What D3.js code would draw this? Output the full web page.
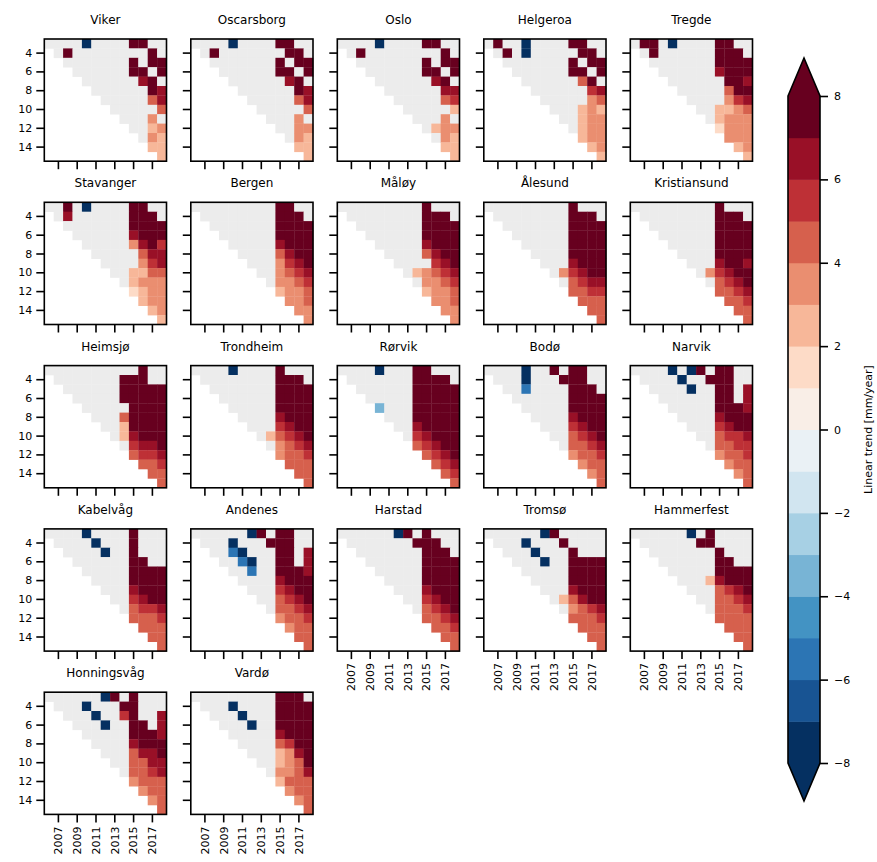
<!DOCTYPE html>
<html><head><meta charset="utf-8">
<script src="https://cdn.jsdelivr.net/npm/d3@7"></script>
<style>body{margin:0;background:#fff}svg text{font-family:"DejaVu Sans",sans-serif}</style>
</head><body>
<svg id="chart" width="877" height="862"></svg>
<script>
const G = null; // not significant (grey)
const stationNames = ["Viker","Oscarsborg","Oslo","Helgeroa","Tregde","Stavanger","Bergen","Måløy","Ålesund","Kristiansund","Heimsjø","Trondheim","Rørvik","Bodø","Narvik","Kabelvåg","Andenes","Harstad","Tromsø","Hammerfest","Honningsvåg","Vardø"];
const endYears = [2006,2007,2008,2009,2010,2011,2012,2013,2014,2015,2016,2017,2018];
const windowLengths = [3,4,5,6,7,8,9,10,11,12,13,14,15];
const xTickLabels = [2007,2009,2011,2013,2015,2017];
const yTickLabels = [4,6,8,10,12,14];
const levels = [-8,-7,-6,-5,-4,-3,-2,-1,0,1,2,3,4,5,6,7,8];
const colorbarTicks = [-8,-6,-4,-2,0,2,4,6,8];

// row r = window length windowLengths[r]; values start at endYears[r]
const viker = [
 [G,G,G,G,-9,G,G,G,G,9,9,G,G],
 [G,9,G,G,G,G,G,G,G,G,9,G],
 [G,G,G,G,G,G,G,9,G,9,9],
 [G,G,G,G,G,G,9,9,G,9],
 [G,G,G,G,G,G,6.5,9,G],
 [G,G,G,G,G,G,9,6.5],
 [G,G,G,G,G,4.5,6.5],
 [G,G,G,G,G,4.5],
 [G,G,G,3.5,G],
 [G,G,2.5,3.5],
 [G,3.5,2.5],
 [2.5,2.5],
 [2.5]];
const oscarsborg = [
 [G,G,G,G,-9,G,G,G,G,9,9,G,G],
 [G,9,G,G,G,G,G,G,G,9,9,G],
 [G,G,G,G,G,G,G,9,G,9,9],
 [G,G,G,G,G,G,9,9,G,9],
 [G,G,G,G,G,G,6.5,9,G],
 [G,G,G,G,G,G,9,6.5],
 [G,G,G,G,G,4.5,6.5],
 [G,G,G,G,G,4.5],
 [G,G,G,3.5,G],
 [G,G,3.5,3.5],
 [G,3.5,2.5],
 [2.5,2.5],
 [2.5]];
const oslo = [
 [G,G,G,G,-9,G,G,G,G,9,9,G,G],
 [G,9,G,G,G,G,G,G,G,G,9,G],
 [G,G,G,G,G,G,G,9,G,9,9],
 [G,G,G,G,G,G,9,9,G,9],
 [G,G,G,G,G,G,6.5,9,G],
 [G,G,G,G,G,G,6.5,6.5],
 [G,G,G,G,G,4.5,5.5],
 [G,G,G,G,G,2.5],
 [G,G,G,3.5,G],
 [G,2.5,3.5,3.5],
 [G,3.5,2.5],
 [2.5,2.5],
 [2.5]];
const helgeroa = [
 [G,9,G,G,-9,G,G,G,G,9,9,G,G],
 [G,9,G,-9,G,G,G,G,G,9,9,G],
 [G,G,G,G,G,G,G,9,G,9,9],
 [G,G,G,G,G,G,9,9,G,9],
 [G,G,G,G,G,G,4.5,9,G],
 [G,G,G,G,G,G,5.5,6.5],
 [G,G,G,G,G,3.5,4.5],
 [G,G,G,2.5,3.5,2.5],
 [G,G,2.5,3.5,3.5],
 [G,2.5,3.5,3.5],
 [2.5,3.5,3.5],
 [2.5,3.5],
 [2.5]];
const tregde = [
 [G,9,9,G,-9,G,G,G,G,9,9,G,G],
 [G,9,G,G,G,G,G,G,9,9,9,G],
 [G,G,G,G,G,G,G,9,9,9,9],
 [G,G,G,G,G,G,6.5,9,9,9],
 [G,G,G,G,G,G,9,9,6.5],
 [G,G,G,G,G,4.5,9,9],
 [G,G,G,G,3.5,5.5,6.5],
 [G,G,2.5,2.5,3.5,4.5],
 [G,2.5,3.5,3.5,3.5],
 [1.5,3.5,3.5,3.5],
 [3.5,3.5,3.5],
 [2.5,3.5],
 [2.5]];
const stavanger = [
 [G,G,9,G,-9,G,G,G,G,9,9,G,G],
 [G,6.5,G,G,G,G,G,G,9,9,9,G],
 [G,G,G,G,G,G,G,9,9,9,9],
 [G,G,G,G,G,G,6.5,9,9,9],
 [G,G,G,G,G,3.5,6.5,9,5.5],
 [G,G,G,G,G,4.5,6.5,6.5],
 [G,G,G,G,3.5,5.5,6.5],
 [G,G,2.5,2.5,4.5,4.5],
 [G,2.5,3.5,3.5,3.5],
 [1.5,2.5,3.5,3.5],
 [2.5,3.5,3.5],
 [2.5,3.5],
 [2.5]];
const bergen = [
 [G,G,G,G,G,G,G,G,G,9,9,G,G],
 [G,G,G,G,G,G,G,G,9,9,9,G],
 [G,G,G,G,G,G,G,9,9,9,9],
 [G,G,G,G,G,G,9,9,9,9],
 [G,G,G,G,G,6.5,9,9,9],
 [G,G,G,G,4.5,6.5,9,9],
 [G,G,G,3.5,5.5,6.5,9],
 [G,G,3.5,4.5,5.5,6.5],
 [G,3.5,3.5,4.5,5.5],
 [2.5,3.5,3.5,4.5],
 [3.5,3.5,4.5],
 [3.5,3.5],
 [3.5]];
const maloy = [
 [G,G,G,G,G,G,G,G,G,9,G,G,G],
 [G,G,G,G,G,G,G,G,9,9,9,G],
 [G,G,G,G,G,G,G,9,9,9,9],
 [G,G,G,G,G,G,9,9,9,9],
 [G,G,G,G,G,6.5,9,9,9],
 [G,G,G,G,4.5,6.5,9,9],
 [G,G,G,G,5.5,6.5,9],
 [G,2.5,3.5,4.5,5.5,6.5],
 [G,3.5,3.5,4.5,5.5],
 [2.5,3.5,3.5,4.5],
 [3.5,3.5,4.5],
 [3.5,3.5],
 [3.5]];
const alesund = [
 [G,G,G,G,G,G,G,G,G,9,G,G,G],
 [G,G,G,G,G,G,G,G,9,9,9,G],
 [G,G,G,G,G,G,G,9,9,9,9],
 [G,G,G,G,G,G,9,9,9,9],
 [G,G,G,G,G,9,9,9,9],
 [G,G,G,G,9,9,9,9],
 [G,G,G,6.5,9,9,9],
 [G,3.5,5.5,6.5,9,9],
 [G,4.5,5.5,6.5,6.5],
 [4.5,4.5,5.5,5.5],
 [4.5,4.5,4.5],
 [4.5,4.5],
 [4.5]];
const kristiansund = [
 [G,G,G,G,G,G,G,G,G,9,G,G,G],
 [G,G,G,G,G,G,G,G,9,9,9,G],
 [G,G,G,G,G,G,G,9,9,9,9],
 [G,G,G,G,G,G,9,9,9,9],
 [G,G,G,G,G,9,9,9,9],
 [G,G,G,G,9,9,9,9],
 [G,G,G,6.5,9,9,6.5],
 [G,3.5,5.5,6.5,9,9],
 [G,4.5,5.5,6.5,9],
 [4.5,4.5,5.5,6.5],
 [4.5,4.5,5.5],
 [4.5,4.5],
 [4.5]];
const heimsjo = [
 [G,G,G,G,G,G,G,G,G,G,9,G,G],
 [G,G,G,G,G,G,G,9,9,9,G,G],
 [G,G,G,G,G,G,9,9,9,9,9],
 [G,G,G,G,G,9,9,9,9,9],
 [G,G,G,G,G,9,9,9,9],
 [G,G,G,4.5,9,9,9,9],
 [G,G,2.5,9,9,9,9],
 [G,2.5,6.5,9,9,9],
 [G,5.5,6.5,6.5,9],
 [4.5,5.5,5.5,6.5],
 [4.5,4.5,5.5],
 [4.5,4.5],
 [4.5]];
const trondheim = [
 [G,G,G,G,-9,G,G,G,G,9,G,G,G],
 [G,G,G,G,G,G,G,G,9,9,9,G],
 [G,G,G,G,G,G,G,9,9,9,9],
 [G,G,G,G,G,G,9,9,9,9],
 [G,G,G,G,G,9,9,9,9],
 [G,G,G,G,6.5,9,9,9],
 [G,G,G,5.5,6.5,9,9],
 [G,2.5,4.5,5.5,6.5,9],
 [G,3.5,4.5,5.5,6.5],
 [3.5,4.5,4.5,5.5],
 [4.5,4.5,4.5],
 [4.5,4.5],
 [4.5]];
const rorvik = [
 [G,G,G,G,-9,G,G,G,9,9,G,G,G],
 [G,G,G,G,G,G,G,9,9,9,9,G],
 [G,G,G,G,G,G,9,9,9,9,9],
 [G,G,G,G,G,9,9,9,9,9],
 [-3.5,G,G,G,9,9,9,9,9],
 [G,G,G,9,9,9,9,9],
 [G,G,6.5,9,9,9,9],
 [G,5.5,6.5,9,9,9],
 [4.5,5.5,6.5,9,9],
 [4.5,5.5,6.5,9],
 [4.5,5.5,6.5],
 [4.5,5.5],
 [4.5]];
const bodo = [
 [G,G,G,G,-9,G,G,9,G,9,9,G,G],
 [G,G,G,-9,G,G,G,9,9,9,G,G],
 [G,G,-5.5,G,G,G,G,9,9,9,G],
 [G,G,G,G,G,G,9,9,9,9],
 [G,G,G,G,G,9,9,9,9],
 [G,G,G,G,6.5,9,9,9],
 [G,G,G,5.5,6.5,9,9],
 [G,G,4.5,5.5,6.5,9],
 [G,4.5,4.5,5.5,6.5],
 [3.5,4.5,4.5,5.5],
 [3.5,4.5,4.5],
 [3.5,4.5],
 [4.5]];
const narvik = [
 [G,G,G,G,-9,G,-9,9,G,9,9,G,G],
 [G,G,G,G,-9,G,G,9,9,9,G,G],
 [G,G,G,G,-9,G,G,9,9,G,6.5],
 [G,G,G,G,G,G,9,9,G,6.5],
 [G,G,G,G,G,9,9,9,6.5],
 [G,G,G,G,6.5,9,9,9],
 [G,G,G,5.5,6.5,9,9],
 [G,G,4.5,5.5,5.5,6.5],
 [G,4.5,4.5,5.5,5.5],
 [3.5,4.5,4.5,5.5],
 [3.5,4.5,4.5],
 [3.5,4.5],
 [4.5]];
const kabelvag = [
 [G,G,G,G,-9,G,G,G,G,9,G,G,G],
 [G,G,G,G,-9,G,G,G,9,G,G,G],
 [G,G,G,G,-9,G,G,9,G,G,G],
 [G,G,G,G,G,G,9,9,G,G],
 [G,G,G,G,G,9,9,9,9],
 [G,G,G,G,9,9,9,9],
 [G,G,G,6.5,9,9,9],
 [G,G,5.5,6.5,9,9],
 [G,4.5,5.5,5.5,6.5],
 [4.5,4.5,4.5,5.5],
 [4.5,4.5,4.5],
 [4.5,4.5],
 [4.5]];
const andenes = [
 [G,G,G,G,G,G,-9,9,G,9,9,G,G],
 [G,G,G,-9,G,G,G,9,9,9,G,G],
 [G,G,-5.5,-9,G,G,G,9,9,G,6.5],
 [G,G,-5.5,-9,G,G,9,9,G,6.5],
 [G,G,-5.5,G,G,9,9,9,6.5],
 [G,G,G,G,6.5,9,9,9],
 [G,G,G,5.5,6.5,9,9],
 [G,G,4.5,5.5,6.5,9],
 [G,4.5,4.5,5.5,6.5],
 [3.5,4.5,4.5,5.5],
 [3.5,4.5,4.5],
 [4.5,4.5],
 [4.5]];
const harstad = [
 [G,G,G,G,G,G,-9,9,G,9,G,G,G],
 [G,G,G,G,G,G,G,9,9,9,G,G],
 [G,G,G,G,G,G,G,9,9,9,G],
 [G,G,G,G,G,G,9,9,9,9],
 [G,G,G,G,G,9,9,9,9],
 [G,G,G,G,9,9,9,9],
 [G,G,G,6.5,9,9,9],
 [G,G,5.5,6.5,9,9],
 [G,4.5,5.5,6.5,9],
 [4.5,4.5,5.5,6.5],
 [4.5,4.5,5.5],
 [4.5,4.5],
 [4.5]];
const tromso = [
 [G,G,G,G,G,G,-9,9,G,G,G,G,G],
 [G,G,G,-9,G,G,G,9,G,G,G,G],
 [G,G,G,-9,G,G,G,9,G,G,G],
 [G,G,G,-9,G,G,9,9,9,9],
 [G,G,G,G,G,9,9,9,9],
 [G,G,G,G,9,9,9,9],
 [G,G,G,6.5,9,9,9],
 [G,2.5,4.5,6.5,9,9],
 [G,3.5,4.5,5.5,6.5],
 [4.5,4.5,4.5,5.5],
 [4.5,4.5,4.5],
 [4.5,4.5],
 [4.5]];
const hammerfest = [
 [G,G,G,G,G,G,-9,G,9,G,G,G,G],
 [G,G,G,G,G,G,9,9,G,G,G,G],
 [G,G,G,G,G,G,G,9,G,G,G],
 [G,G,G,G,G,G,9,9,G,G],
 [G,G,G,G,G,9,9,9,9],
 [G,G,G,2.5,6.5,9,9,9],
 [G,G,G,4.5,5.5,6.5,9],
 [G,G,4.5,4.5,5.5,6.5],
 [G,4.5,4.5,4.5,5.5],
 [4.5,4.5,4.5,4.5],
 [4.5,4.5,4.5],
 [4.5,4.5],
 [4.5]];
const honningsvag = [
 [G,G,G,G,G,G,-9,9,G,9,G,G,G],
 [G,G,G,-9,G,G,G,9,9,G,G,G],
 [G,G,G,-9,G,G,5.5,9,G,G,6.5],
 [G,G,G,-9,G,G,9,9,G,6.5],
 [G,G,G,G,G,9,9,9,6.5],
 [G,G,G,G,6.5,9,9,9],
 [G,G,G,4.5,6.5,6.5,9],
 [G,G,4.5,4.5,6.5,6.5],
 [G,4.5,4.5,5.5,6.5],
 [3.5,4.5,4.5,4.5],
 [3.5,4.5,4.5],
 [3.5,4.5],
 [4.5]];
const vardo = [
 [G,G,G,G,G,G,G,G,G,9,9,9,G],
 [G,G,G,-9,G,G,G,G,9,9,9,9],
 [G,G,G,-9,G,G,G,9,9,9,9],
 [G,G,G,-9,G,G,9,9,9,9],
 [G,G,G,G,G,6.5,9,9,9],
 [G,G,G,G,4.5,5.5,9,9],
 [G,G,G,2.5,3.5,6.5,9],
 [G,G,2.5,3.5,4.5,9],
 [G,3.5,3.5,4.5,6.5],
 [2.5,4.5,4.5,4.5],
 [3.5,4.5,4.5],
 [3.5,4.5],
 [4.5]];

const stationTrends = [viker,oscarsborg,oslo,helgeroa,tregde,stavanger,bergen,maloy,alesund,kristiansund,
  heimsjo,trondheim,rorvik,bodo,narvik,kabelvag,andenes,harstad,tromso,hammerfest,honningsvag,vardo];

// ---- colours: matplotlib RdBu_r, 16 discrete levels ----
const rdbuNodes = ["#67001f","#b2182b","#d6604d","#f4a582","#fddbc7","#f7f7f7","#d1e5f0","#92c5de","#4393c3","#2166ac","#053061"].reverse();
const cmap = d3.scaleLinear().domain(d3.range(11).map(i => i/10)).range(rdbuNodes).interpolate(d3.interpolateRgb);
const nBands = levels.length - 1;
const bandColors = d3.range(nBands).map(i => cmap(i/(nBands-1)));
const color = d3.scaleThreshold().domain(levels.slice(1, -1)).range(bandColors);
const greyFill = "#ececec";

const svg = d3.select("#chart");
const panelSize = 122.2, colStep = 146.5, rowStep = 163.3, left0 = 44.3, top0 = 39;
const nCols = 5;

stationNames.forEach((name, i) => {
  const pr = Math.floor(i / nCols), pc = i % nCols;
  const g = svg.append("g").attr("transform", `translate(${left0 + pc*colStep},${top0 + pr*rowStep})`);
  const x = d3.scaleBand().domain(endYears).range([0, panelSize]);
  const y = d3.scaleBand().domain(windowLengths).range([0, panelSize]);
  const cells = [];
  stationTrends[i].forEach((row, r) => row.forEach((v, j) => cells.push({year: endYears[r + j], win: windowLengths[r], v})));
  g.selectAll("rect.cell").data(cells).join("rect").attr("class","cell")
    .attr("x", d => x(d.year)).attr("y", d => y(d.win))
    .attr("width", x.bandwidth() + 0.3).attr("height", y.bandwidth() + 0.3)
    .attr("fill", d => d.v === null ? greyFill : color(d.v));
  g.append("rect").attr("width", panelSize).attr("height", panelSize)
    .attr("fill", "none").attr("stroke", "#000").attr("stroke-width", 1.6);
  const showX = i + nCols >= stationNames.length;
  const xAxis = d3.axisBottom(x).tickValues(xTickLabels).tickSize(8).tickPadding(4);
  const xa = g.append("g").attr("transform", `translate(0,${panelSize})`).call(xAxis);
  xa.select(".domain").remove();
  xa.selectAll(".tick line").attr("stroke-width", 1.6);
  if (showX) {
    xa.selectAll(".tick text").attr("font-size", 11).attr("fill","#000")
      .attr("transform", "rotate(-90)").attr("text-anchor", "end")
      .attr("x", -12).attr("y", 0).attr("dy", "0.35em");
  } else xa.selectAll(".tick text").remove();
  const yAxis = d3.axisLeft(y).tickValues(yTickLabels).tickSize(8).tickPadding(4);
  const ya = g.append("g").call(yAxis);
  ya.select(".domain").remove();
  ya.selectAll(".tick line").attr("stroke-width", 1.6);
  if (pc === 0) ya.selectAll(".tick text").attr("font-size", 11).attr("fill","#000");
  else ya.selectAll(".tick text").remove();
  g.append("text").attr("x", panelSize/2).attr("y", -15).attr("text-anchor","middle")
    .attr("font-size", 12).text(name);
});

// ---- colour bar ----
const cbX = 788, cbW = 32, cbTop = 96, cbBot = 763, triH = 38;
const cbScale = d3.scaleLinear().domain([levels[0], levels[levels.length-1]]).range([cbBot, cbTop]);
const cb = svg.append("g");
cb.selectAll("rect").data(d3.pairs(levels)).join("rect")
  .attr("x", cbX).attr("width", cbW)
  .attr("y", d => cbScale(d[1])).attr("height", d => cbScale(d[0]) - cbScale(d[1]) + 0.5)
  .attr("fill", d => color((d[0]+d[1])/2));
cb.append("path").attr("d", `M${cbX},${cbTop}L${cbX+cbW/2},${cbTop-triH}L${cbX+cbW},${cbTop}Z`).attr("fill", color(levels[levels.length-1]+1));
cb.append("path").attr("d", `M${cbX},${cbBot}L${cbX+cbW/2},${cbBot+triH}L${cbX+cbW},${cbBot}Z`).attr("fill", color(levels[0]-1));
cb.append("path").attr("d", `M${cbX},${cbTop}L${cbX+cbW/2},${cbTop-triH}L${cbX+cbW},${cbTop}L${cbX+cbW},${cbBot}L${cbX+cbW/2},${cbBot+triH}L${cbX},${cbBot}Z`)
  .attr("fill","none").attr("stroke","#000").attr("stroke-width",1.6);
const cbAxis = d3.axisRight(cbScale).tickValues(colorbarTicks).tickSize(8).tickPadding(6)
  .tickFormat(d => d < 0 ? "\u2212" + Math.abs(d) : String(d));
const cba = cb.append("g").attr("transform", `translate(${cbX+cbW},0)`).call(cbAxis);
cba.select(".domain").remove();
cba.selectAll(".tick line").attr("stroke-width", 1.6);
cba.selectAll(".tick text").attr("font-size", 11).attr("fill","#000");
svg.append("text").attr("transform", `translate(872,${(cbTop+cbBot)/2}) rotate(-90)`)
  .attr("text-anchor","middle").attr("font-size", 11).text("Linear trend [mm/year]");
</script>
</body></html>
